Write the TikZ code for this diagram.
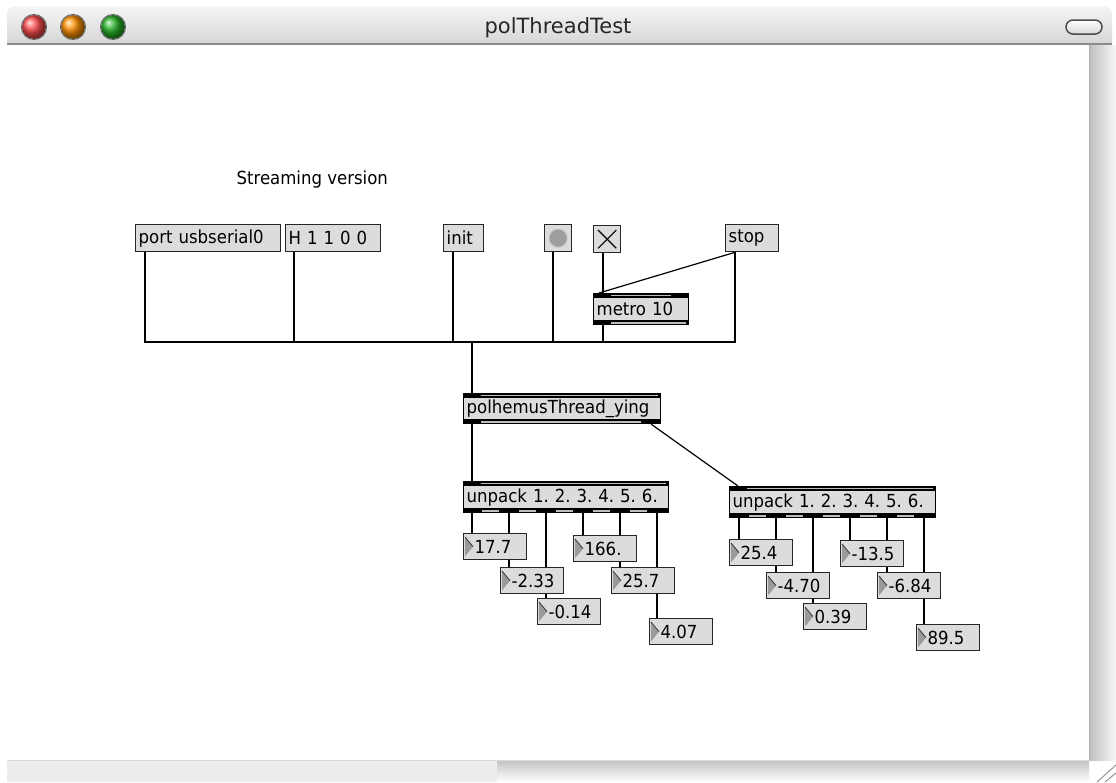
\documentclass[tikz,border=0pt]{standalone}
\usepackage{fontspec}
\setmainfont{DejaVu Sans}
\newfontfamily\genevafont[FakeStretch=0.92]{DejaVu Sans}
\frenchspacing
\pgfdeclarelayer{bg}
\pgfsetlayers{bg,main}
\definecolor{boxgrey}{HTML}{DCDCDC}
\definecolor{edgec}{HTML}{262626}
\definecolor{bandline}{HTML}{BDBDBD}
\definecolor{trigrey}{HTML}{9A9A9A}
\tikzset{
  maxfont/.style={font=\genevafont\fontsize{18}{20}\selectfont\frenchspacing},
  msgbox/.style={maxfont, draw=edgec, fill=boxgrey, line width=1.3pt, rectangle, anchor=north west, inner xsep=3pt, inner ysep=0pt, align=left, minimum height=27pt},
  objbox/.style={maxfont, draw=black, fill=boxgrey, line width=1.3pt, rectangle, anchor=north west, inner xsep=3pt, inner ysep=0pt, align=left, minimum height=31pt},
  numbox/.style={maxfont, draw=edgec, fill=boxgrey, line width=1.3pt, rectangle, anchor=north west, inner xsep=3pt, inner ysep=0pt, align=left, minimum height=26pt, text width=57pt},
  uibox/.style={draw=edgec, fill=boxgrey, line width=1.3pt, rectangle, anchor=north west, inner sep=0pt, minimum width=27pt, minimum height=27pt},
  cord/.style={draw=black, line width=1.2pt},
  band/.style={fill=black},
  bandgap/.style={draw=bandline, line width=1.4pt},
}
\newcommand{\nb}{\hspace*{8pt}}
\newcommand{\bandsTop}[3]{%
  \fill[band] (#1.north west) rectangle ([yshift=-5pt]#1.north east);
  \draw[bandgap] ([xshift=#2,yshift=-2.5pt]#1.north west) -- ([xshift=-#3,yshift=-2.5pt]#1.north east);}
\newcommand{\bandsBot}[3]{%
  \fill[band] ([yshift=5pt]#1.south west) rectangle (#1.south east);
  \draw[bandgap] ([xshift=#2,yshift=2.5pt]#1.south west) -- ([xshift=-#3,yshift=2.5pt]#1.south east);}
\newcommand{\numtri}[1]{%
  \fill[trigrey] ([xshift=2pt,yshift=-4pt]#1.north west) -- ([xshift=10pt]#1.west) -- ([xshift=2pt,yshift=4pt]#1.south west) -- cycle;
  \draw[black!75, line width=0.9pt] ([xshift=2pt,yshift=-4pt]#1.north west) -- ([xshift=10pt]#1.west);}
\begin{document}
\begin{tikzpicture}[x=1pt,y=-1pt]
\useasboundingbox (0,0) rectangle (1116,782);
\begin{pgfonlayer}{bg}
\fill[white] (0,0) rectangle (1116,782);
% title bar
\shade[top color=black!4, bottom color=black!16] (7,44) [rounded corners=8pt] -- (7,6) -- (1112,6) [sharp corners] -- (1112,44) -- cycle;
\draw[black!45, line width=1.2pt] (7,44) -- (1112,44);
\shade[ball color=red!70!white] (34,27) circle (12pt);
\draw[black!60, line width=1pt] (34,27) circle (12.5pt);
\shade[ball color=orange!85!yellow] (73,27) circle (12pt);
\draw[black!60, line width=1pt] (73,27) circle (12.5pt);
\shade[ball color=green!65!black!85!white] (113,27) circle (12pt);
\draw[black!60, line width=1pt] (113,27) circle (12.5pt);
\shadedraw[draw=black!70, line width=1.5pt, rounded corners=7pt, top color=white, bottom color=black!15] (1066,20) rectangle (1102,34);
% scrollbars
\shade[left color=black!25, right color=black!3] (1089,45) rectangle (1116,760);
\draw[black!30] (1089,45) -- (1089,760);
\fill[black!7] (7,760) rectangle (497,782);
\shade[top color=black!24, bottom color=white] (497,760) rectangle (1089,782);
\draw[black!15] (7,760) -- (1089,760);
\fill[white] (1090,761) rectangle (1116,782);
\draw[black!45, line width=0.9pt] (1097,782) -- (1116,765);
\draw[black!45, line width=0.9pt] (1105,782) -- (1116,773);
\end{pgfonlayer}
\node[font=\fontsize{21}{24}\selectfont, text=black!85] (wtitle) at (558,28) {polThreadTest};
\node[maxfont, anchor=west] (caption) at (233,180) {Streaming version};
% top row
\node[msgbox, text width=139pt] (port) at (135,224) {\mbox{port usbserial0}};
\node[msgbox, text width=89pt] (hmsg) at (285,224) {\mbox{H 1 1 0 0}};
\node[msgbox, text width=34pt] (init) at (443,224) {init};
\node[uibox] (bang) at (544,224) {};
\fill[black!38] (bang.center) circle (9pt);
\draw[black!25, line width=1pt] (bang.center) circle (9pt);
\node[uibox] (tog) at (593,225) {};
\draw[black, line width=1.1pt] ([xshift=5pt,yshift=-5pt]tog.north west) -- ([xshift=-5pt,yshift=5pt]tog.south east);
\draw[black, line width=1.1pt] ([xshift=-5pt,yshift=-5pt]tog.north east) -- ([xshift=5pt,yshift=5pt]tog.south west);
\node[msgbox, text width=47pt] (stop) at (725,224) {stop};
% objects
\node[objbox, text width=89pt] (metro) at (593,293) {\mbox{metro 10}};
\bandsTop{metro}{18pt}{18pt}
\bandsBot{metro}{18pt}{3pt}
\node[objbox, text width=191pt, minimum height=30pt] (polh) at (463,393) {polhemusThread\_ying};
\bandsTop{polh}{18pt}{3pt}
\bandsBot{polh}{18pt}{20pt}
\node[objbox, text width=199pt] (unpackA) at (463,481) {\mbox{unpack 1. 2. 3. 4. 5. 6.}};
\bandsTop{unpackA}{18pt}{3pt}
\fill[band] ([yshift=5pt]unpackA.south west) rectangle (unpackA.south east);
\foreach \k in {0,...,4} {
  \draw[bandgap] ([xshift=19pt+37pt*\k, yshift=2.5pt]unpackA.south west) -- ([xshift=36pt+37pt*\k, yshift=2.5pt]unpackA.south west);
}
\node[objbox, text width=200pt] (unpackB) at (729,486) {\mbox{unpack 1. 2. 3. 4. 5. 6.}};
\bandsTop{unpackB}{18pt}{3pt}
\fill[band] ([yshift=5pt]unpackB.south west) rectangle (unpackB.south east);
\foreach \k in {0,...,4} {
  \draw[bandgap] ([xshift=20pt+37pt*\k, yshift=2.5pt]unpackB.south west) -- ([xshift=37pt+37pt*\k, yshift=2.5pt]unpackB.south west);
}
% number boxes
\node[numbox] (a1) at (463,533) {\nb 17.7};
\node[numbox] (a2) at (500,567) {\nb -2.33};
\node[numbox] (a3) at (537,598) {\nb -0.14};
\node[numbox] (a4) at (573,535) {\nb 166.};
\node[numbox] (a5) at (611,567) {\nb 25.7};
\node[numbox] (a6) at (649,618) {\nb 4.07};
\node[numbox] (b1) at (729,539) {\nb 25.4};
\node[numbox] (b2) at (766,572) {\nb -4.70};
\node[numbox] (b3) at (803,603) {\nb 0.39};
\node[numbox] (b4) at (840,540) {\nb -13.5};
\node[numbox] (b5) at (877,572) {\nb -6.84};
\node[numbox] (b6) at (916,624) {\nb 89.5};
\foreach \n in {a1,a2,a3,a4,a5,a6,b1,b2,b3,b4,b5,b6} { \numtri{\n} }
% cords
\begin{pgfonlayer}{bg}
\coordinate (bus) at (472,342);
\draw[cord] ([xshift=10pt]port.south west) |- (bus);
\draw[cord] ([xshift=9pt]hmsg.south west) |- (bus);
\draw[cord] ([xshift=10pt]init.south west) |- (bus);
\draw[cord] ([xshift=9pt]bang.south west) |- (bus);
\draw[cord] ([xshift=10pt]tog.south west) -- ([xshift=10pt]metro.north west);
\draw[cord] ([xshift=10pt]metro.south west) |- (bus);
\draw[cord] ([xshift=10pt]stop.south west) |- (bus);
\draw[cord] ([xshift=10pt]stop.south west) -- ([xshift=6pt]metro.north west);
\draw[cord] (bus) -- (bus |- polh.north);
\draw[cord] ([xshift=9pt]polh.south west) -- ([xshift=9pt]unpackA.north west);
\draw[cord] ([xshift=-10pt]polh.south east) -- ([xshift=9pt]unpackB.north west);
\foreach \k/\tg in {0/a1,1/a2,2/a3,3/a4,4/a5,5/a6} {
  \draw[cord] ([xshift=9pt+37pt*\k]unpackA.south west) coordinate (o) -- (o |- \tg.north);
}
\foreach \k/\tg in {0/b1,1/b2,2/b3,3/b4,4/b5,5/b6} {
  \draw[cord] ([xshift=10pt+37pt*\k]unpackB.south west) coordinate (o) -- (o |- \tg.north);
}
\end{pgfonlayer}
\end{tikzpicture}
\end{document}
